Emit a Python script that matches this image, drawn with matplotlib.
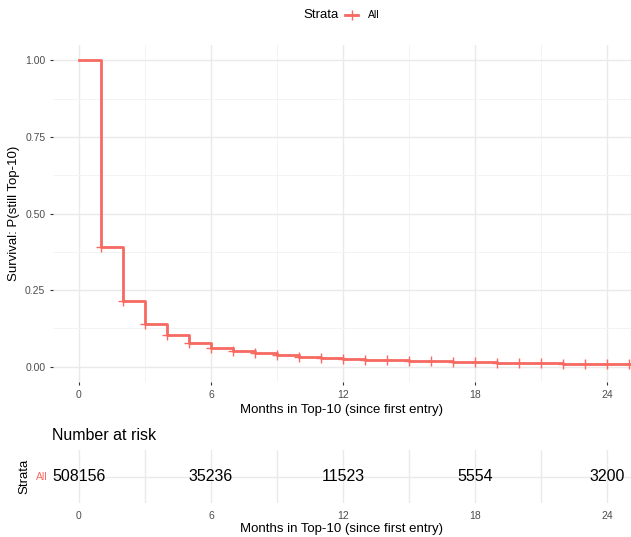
import matplotlib
matplotlib.use("Agg")
import matplotlib.pyplot as plt
from matplotlib.lines import Line2D

plt.rcParams['font.family'] = ['Liberation Sans', 'DejaVu Sans']

# ---- data ----
months = [0, 1, 2, 3, 4, 5, 6, 7, 8, 9, 10, 11, 12, 13, 14, 15, 16, 17, 18,
          19, 20, 21, 22, 23, 24, 25, 26]
survival = [1.00, 0.390, 0.214, 0.140, 0.102, 0.078, 0.062, 0.050, 0.044, 0.037,
            0.032, 0.029, 0.026, 0.023, 0.021, 0.019, 0.017, 0.016, 0.014,
            0.013, 0.012, 0.011, 0.010, 0.0095, 0.0085, 0.0075, 0.0075]
censor_months = list(range(1, 26))
risk_times = [0, 6, 12, 18, 24]
risk_counts = [508156, 35236, 11523, 5554, 3200]
strata_name = "All"
curve_color = "#F66A62"

W, H = 631, 537
fig = plt.figure(figsize=(W / 100, H / 100), dpi=100)

def px_box(l, t, r, b):
    return [l / W, 1 - b / H, (r - l) / W, (b - t) / H]

grid_major = "#EAEAEA"
grid_minor = "#F3F3F3"
tick_col = "#4D4D4D"
xlim = (-1.18, 25.09)

# ---- main survival panel ----
ax = fig.add_axes(px_box(53, 45, 631, 382))
ax.set_xlim(*xlim)
ax.set_ylim(-0.05, 1.05)
for s in ax.spines.values():
    s.set_visible(False)
ax.set_xticks([0, 6, 12, 18, 24])
ax.set_xticks([3, 9, 15, 21], minor=True)
ax.set_yticks([0, 0.25, 0.5, 0.75, 1.0])
ax.set_yticks([0.125, 0.375, 0.625, 0.875], minor=True)
ax.set_yticklabels(["0.00", "0.25", "0.50", "0.75", "1.00"])
ax.grid(which="major", color=grid_major, lw=1.0)
ax.grid(which="minor", color=grid_minor, lw=0.7)
ax.set_axisbelow(True)
ax.tick_params(which="major", length=2.5, width=0.8, color="#333333",
               labelsize=7.5, labelcolor=tick_col, pad=3)
ax.tick_params(which="minor", length=0)

ax.step(months, survival, where="post", color=curve_color, lw=2.0, zorder=3)
cens_y = [survival[months.index(m)] for m in censor_months]
ax.plot(censor_months, cens_y, ls="none", marker="+", ms=7, mew=1.0,
        color=curve_color, zorder=4)
ax.set_xlabel("Months in Top-10 (since first entry)", fontsize=9.5, labelpad=3)
ax.set_ylabel("Survival: P(still Top-10)", fontsize=9.5, labelpad=4)

# ---- legend (top) ----
fig.text(303 / W, 1 - 15 / H, "Strata", fontsize=9.5, va="center", ha="left")
fig.add_artist(Line2D([345 / W, 358 / W], [1 - 15 / H, 1 - 15 / H],
                      color=curve_color, lw=2.0))
fig.add_artist(Line2D([351.5 / W], [1 - 15 / H], marker="+", ms=7, mew=1.0,
                      color=curve_color))
fig.text(368 / W, 1 - 15 / H, strata_name, fontsize=7.5, va="center", ha="left")

# ---- risk table ----
rt = fig.add_axes(px_box(53, 450, 631, 503))
rt.set_xlim(*xlim)
rt.set_ylim(0, 1)
for s in rt.spines.values():
    s.set_visible(False)
rt.set_xticks(risk_times)
rt.set_xticks([3, 9, 15, 21], minor=True)
rt.set_yticks([0.5])
rt.set_yticklabels([strata_name])
rt.grid(which="both", axis="x", color=grid_major, lw=1.0)
rt.grid(which="major", axis="y", color=grid_major, lw=1.0)
rt.set_axisbelow(True)
rt.tick_params(which="both", length=0, labelsize=7.5, labelcolor=tick_col, pad=6)
rt.tick_params(axis="y", labelcolor=curve_color, pad=4)
for t, n in zip(risk_times, risk_counts):
    rt.text(t, 0.5, str(n), ha="center", va="center", fontsize=11.5, color="black")
rt.set_xlabel("Months in Top-10 (since first entry)", fontsize=9.5, labelpad=1)
rt.set_ylabel("Strata", fontsize=9.5, labelpad=4)
fig.text(52 / W, 1 - 435 / H, "Number at risk", fontsize=11.5, va="center", ha="left")

fig.savefig("out.png", dpi=100)
